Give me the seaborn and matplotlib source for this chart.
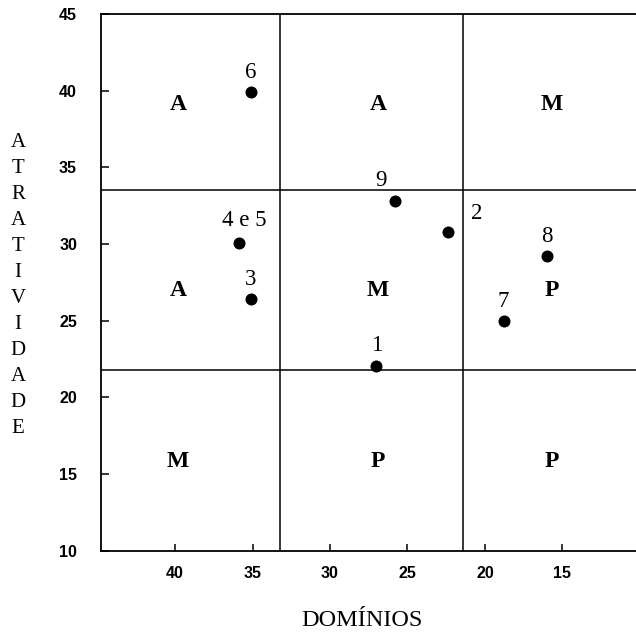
import matplotlib
matplotlib.use("Agg")
import matplotlib.pyplot as plt
import seaborn as sns
import pandas as pd

# numbered points (business units)
point_labels = ["1", "2", "3", "4 e 5", "6", "7", "8", "9"]
dominios = [27.0, 22.4, 35.1, 35.9, 35.1, 18.8, 16.0, 25.8]
atratividade = [22.05, 30.8, 26.4, 30.1, 39.9, 24.95, 29.2, 32.8]

# matrix divisions
x_cuts = [33.2, 21.4]
y_cuts = [33.5, 21.8]

# letters in each cell, top row first
cell_letters = ["A", "A", "M",
                "A", "M", "P",
                "M", "P", "P"]
cell_x = [39.8, 26.9, 15.7] * 3
cell_y = [39.1] * 3 + [27.0] * 3 + [15.8] * 3

x_ticks = [40, 35, 30, 25, 20, 15]
y_ticks = [10, 15, 20, 25, 30, 35, 40, 45]

x_title = "DOMÍNIOS"
y_title = "ATRATIVIDADE"

df = pd.DataFrame({"label": point_labels, "x": dominios, "y": atratividade})

sns.set_theme(style="white")
plt.rcParams["font.family"] = ["Liberation Serif", "DejaVu Serif"]

fig = plt.figure(figsize=(6.36, 6.32), dpi=100)
ax = fig.add_axes([0.1583, 0.1286, 0.8417, 0.8492])

sns.scatterplot(data=df, x="x", y="y", color="black", s=75,
                edgecolor="black", linewidth=0, ax=ax, zorder=3)

for xc in x_cuts:
    ax.axvline(xc, color="black", lw=1.1, zorder=1)
for yc in y_cuts:
    ax.axhline(yc, color="black", lw=1.1, zorder=1)

# point labels, mostly just above the dot
offsets = {"2": (21, 13), "9": (-10, 14.5), "4 e 5": (4, 16)}
for lab, x, y in zip(point_labels, dominios, atratividade):
    dx, dy = offsets.get(lab, (0, 14.5))
    ax.annotate(lab, (x, y), xytext=(dx, dy), textcoords="offset points",
                ha="center", va="center", fontsize=16.5, color="black")

for lab, x, y in zip(cell_letters, cell_x, cell_y):
    ax.text(x, y, lab, ha="center", va="center", fontsize=17,
            fontweight="bold", color="black")

ax.set_xlim(44.8, 10.25)
ax.set_ylim(10, 45)
ax.set_xticks(x_ticks)
ax.set_yticks(y_ticks)
ax.set_xlabel("")
ax.set_ylabel("")

for lbl in ax.get_xticklabels() + ax.get_yticklabels():
    lbl.set_family(["Liberation Sans", "DejaVu Sans"])
    lbl.set_fontweight("bold")
    lbl.set_fontsize(11.5)
ax.tick_params(axis="x", direction="in", length=5, width=1.1, pad=11,
               bottom=True, colors="black")
ax.tick_params(axis="y", direction="in", length=6, width=1.1, pad=17,
               left=True, colors="black")

for side in ["left", "top", "bottom"]:
    ax.spines[side].set_color("black")
    ax.spines[side].set_linewidth(1.3)
ax.spines["right"].set_visible(False)

fig.text(362 / 636, 1 - 620 / 632, x_title, ha="center", va="center",
         fontsize=17.5, color="black")
fig.text(18 / 636, 1 - 285.5 / 632, "\n".join(y_title), ha="center",
         va="center", fontsize=15, linespacing=1.5, color="black")

fig.savefig("out.png", dpi=100)
